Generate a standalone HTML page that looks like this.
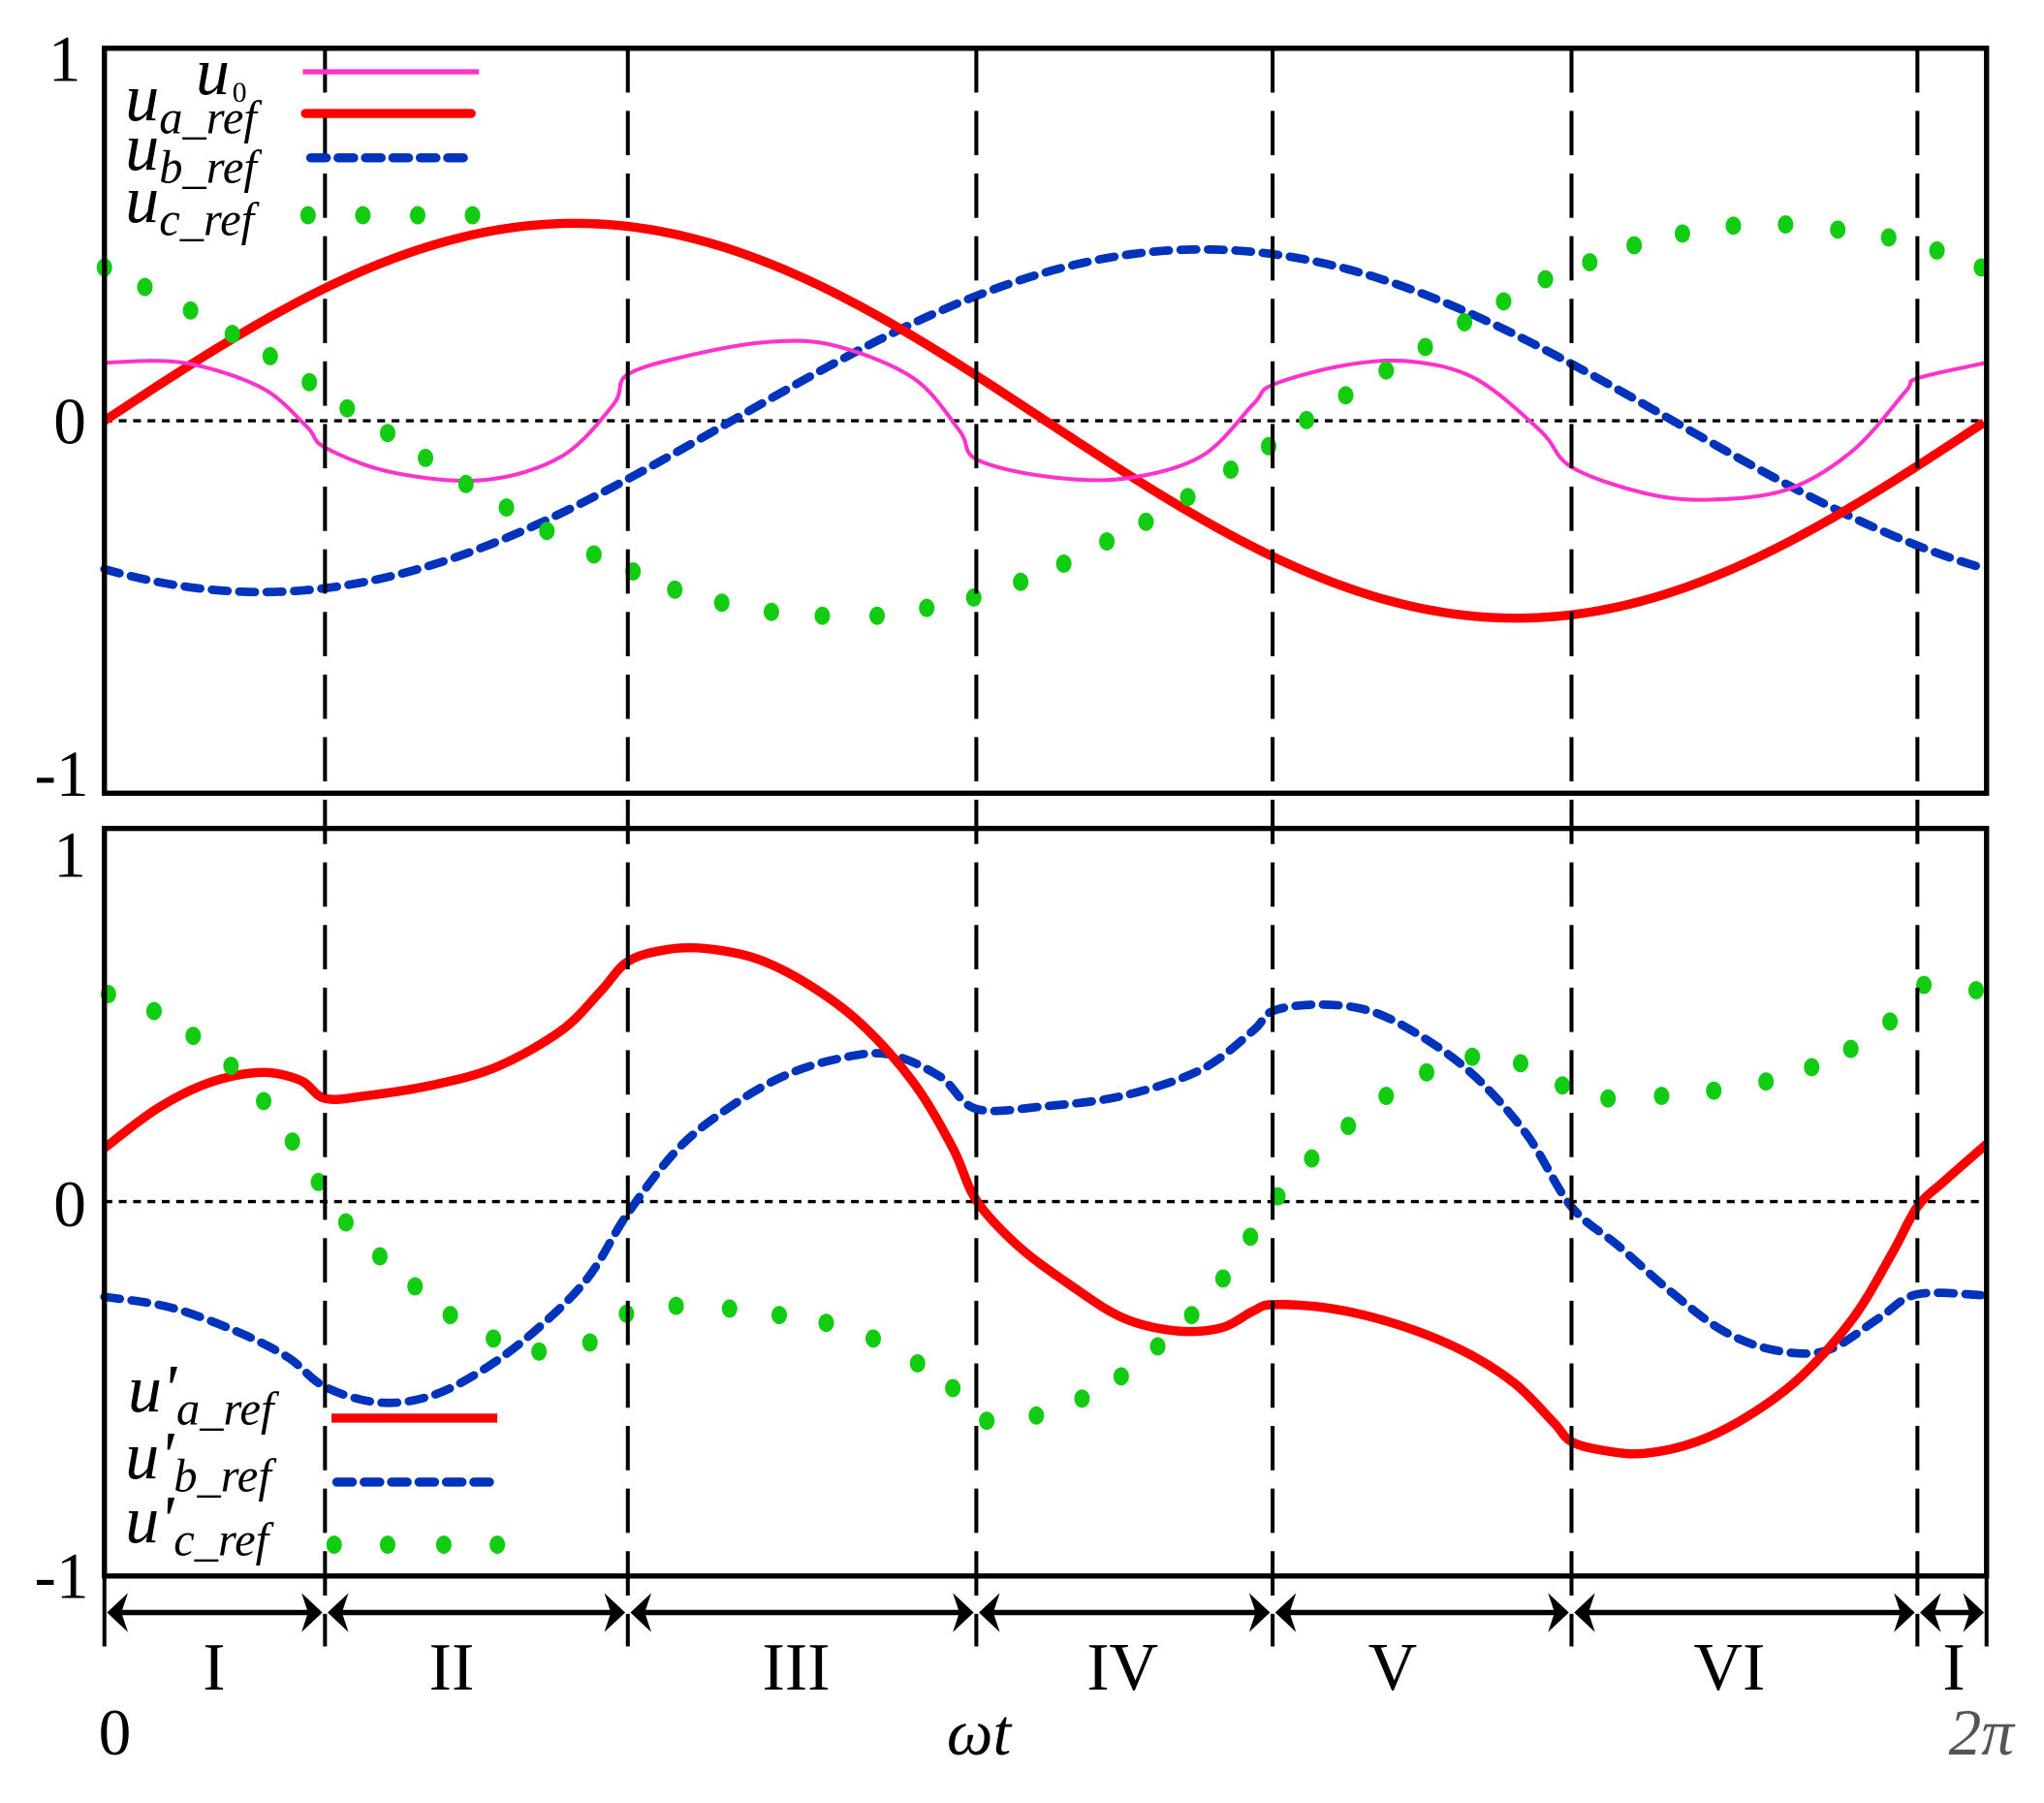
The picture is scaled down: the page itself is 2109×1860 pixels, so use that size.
<!DOCTYPE html>
<html><head><meta charset="utf-8"><style>
html,body{margin:0;padding:0;background:#fff;}
svg{display:block;}
text{font-family:"Liberation Serif",serif;fill:#000;}
</style></head><body>
<svg width="2109" height="1860" viewBox="0 0 1566 1382" preserveAspectRatio="none" xmlns="http://www.w3.org/2000/svg">
<g id="g"></g>
</svg>
<script>
const NS="http://www.w3.org/2000/svg";const G=document.getElementById('g');
function el(t,a,txt){const e=document.createElementNS(NS,t);for(const k in a)e.setAttribute(k,a[k]);if(txt!==undefined)e.textContent=txt;G.appendChild(e);return e;}
function pl(pts,a){const d=pts.map((p,i)=>(i?'L':'M')+p[0]+' '+p[1]).join(' ');const o=Object.assign({d:d,fill:'none'},a);return el('path',o);}
function smooth(pts,a){let d='M'+pts[0][0]+' '+pts[0][1];for(let i=0;i<pts.length-1;i++){const p0=pts[Math.max(0,i-1)],p1=pts[i],p2=pts[i+1],p3=pts[Math.min(pts.length-1,i+2)];const c1=[p1[0]+(p2[0]-p0[0])/6,p1[1]+(p2[1]-p0[1])/6],c2=[p2[0]-(p3[0]-p1[0])/6,p2[1]-(p3[1]-p1[1])/6];d+=` C${c1[0]} ${c1[1]} ${c2[0]} ${c2[1]} ${p2[0]} ${p2[1]}`;}return el('path',Object.assign({d:d,fill:'none'},a));}
function dots(pts,r){pts.forEach(p=>el('ellipse',{cx:p[0],cy:p[1],rx:r*0.85,ry:r,fill:'#11cc11'}));}
const X0=80,X1=1522,W=X1-X0;
function fx(x,amp,ph,z,s){const th=(x-X0)/W*2*Math.PI;return z-amp*s*Math.sin(th+ph);}
el('line',{x1:80,y1:322.5,x2:1522,y2:322.5,stroke:'#000','stroke-width':2.5,'stroke-dasharray':'6 5'});
el('line',{x1:80,y1:921,x2:1522,y2:921,stroke:'#000','stroke-width':2.5,'stroke-dasharray':'6 5'});
let ua=[],ub=[];for(let x=80;x<=1522;x+=6){ua.push([x,fx(x,0.53,0,322.5,285.5)]);ub.push([x,fx(x,0.46,-2*Math.PI/3,322.5,285.5)]);}
pl(ub,{stroke:'#0033bb','stroke-width':6.5,'stroke-dasharray':'12 9','stroke-linecap':'round'});
pl(ua,{stroke:'#ff0000','stroke-width':7});
smooth([[80,278],[140,278],[200,297],[235,327],[249,343],[300,362],[370,368],[430,350],[470,310],[481,287],[530,272],[590,262],[640,265],[700,290],[735,330],[748,352],[800,365],[860,367],[920,350],[960,310],[975,295],[1030,280],[1080,277],[1130,290],[1180,330],[1204,358],[1260,378],[1310,383],[1370,375],[1420,345],[1460,300],[1469,290],[1522,278]],{stroke:'#ff33cc','stroke-width':3});
dots([[80,205],[111,220],[146,238],[178,256],[207,273],[237,293],[266,313],[297,332],[326,351],[357,371],[388,389],[419,407],[455,425],[485,438],[517,452],[553,462],[591,469],[630,472],[672,472],[710,466],[746,458],[782,446],[815,432],[848,415],[878,400],[910,381],[943,360],[972,342],[1001,322],[1031,303],[1062,284],[1092,266],[1122,247],[1152,231],[1184,214],[1218,201],[1252,188],[1289,179],[1328,173],[1368,172],[1408,176],[1447,182],[1484,192],[1518,205]],7);
smooth([[80,994],[130,1002],[180,1020],[220,1040],[249,1063],[290,1075],[330,1070],[370,1050],[410,1020],[450,980],[481,930],[520,880],[560,848],[600,825],[640,812],[680,808],[720,825],[748,850],[800,848],[860,840],[920,820],[960,790],[975,775],[1010,770],[1050,775],[1090,795],[1130,825],[1170,870],[1204,925],[1240,955],[1280,990],[1320,1020],[1360,1035],[1400,1035],[1440,1010],[1469,992],[1522,993]],{stroke:'#0033bb','stroke-width':6.5,'stroke-dasharray':'12 9','stroke-linecap':'round'});
smooth([[80,880],[120,850],[160,830],[200,822],[230,828],[249,842],[280,840],[330,832],[380,818],[430,790],[460,760],[481,737],[510,728],[540,727],[580,735],[620,755],[660,785],[700,830],[730,880],[748,920],[780,955],[820,985],[860,1010],[900,1020],[935,1018],[960,1005],[975,1000],[1020,1003],[1070,1015],[1120,1035],[1160,1060],[1190,1090],[1204,1105],[1230,1112],[1260,1114],[1300,1105],[1340,1085],[1380,1055],[1420,1010],[1450,960],[1469,925],[1490,905],[1522,877]],{stroke:'#ff0000','stroke-width':7});
dots([[83,762],[118,775],[148,794],[177,817],[202,844],[224,875],[244,906],[265,937],[291,963],[318,986],[345,1008],[378,1026],[413,1036],[452,1029],[480,1007],[518,1001],[559,1003],[597,1008],[633,1014],[669,1026],[703,1045],[730,1064],[756,1089],[794,1085],[829,1072],[859,1055],[887,1032],[913,1008],[937,980],[958,948],[979,917],[1005,888],[1033,863],[1062,840],[1093,822],[1128,810],[1165,815],[1197,832],[1232,842],[1273,840],[1313,836],[1353,829],[1388,818],[1418,804],[1448,783],[1474,755],[1514,759]],7);
[249,481,748,975,1204,1469].forEach(x=>el('line',{x1:x,y1:37,x2:x,y2:1262,stroke:'#000','stroke-width':3,'stroke-dasharray':'34 14'}));
el('rect',{x:80,y:37,width:1442,height:571,fill:'none',stroke:'#000','stroke-width':4});
el('rect',{x:80,y:635,width:1442,height:573,fill:'none',stroke:'#000','stroke-width':4});
[80,1522].forEach(x=>el('line',{x1:x,y1:1208,x2:x,y2:1262,stroke:'#000','stroke-width':3}));
const B=[80,249,481,748,975,1204,1469,1522];
for(let i=0;i<B.length-1;i++){const a=B[i]+2,b=B[i+1]-2;el('line',{x1:a+10,y1:1236,x2:b-10,y2:1236,stroke:'#000','stroke-width':4});
el('polygon',{points:`${a},1236 ${a+16},1221 ${a+11},1236 ${a+16},1251`,fill:'#000'});
el('polygon',{points:`${b},1236 ${b-16},1221 ${b-11},1236 ${b-16},1251`,fill:'#000'});}
el('text',{x:62,y:62,'font-size':50,'text-anchor':'end'},'1');
el('text',{x:66,y:340,'font-size':50,'text-anchor':'end'},'0');
el('text',{x:68,y:610,'font-size':50,'text-anchor':'end'},'-1');
el('text',{x:66,y:672,'font-size':50,'text-anchor':'end'},'1');
el('text',{x:66,y:940,'font-size':50,'text-anchor':'end'},'0');
el('text',{x:68,y:1225,'font-size':50,'text-anchor':'end'},'-1');
[['I',164],['II',346],['III',610],['IV',860],['V',1067],['VI',1325],['I',1497]].forEach(r=>el('text',{x:r[1],y:1295,'font-size':52,'text-anchor':'middle'},r[0]));
el('text',{x:88,y:1345,'font-size':50,'text-anchor':'middle'},'0');
el('text',{x:750,y:1345,'font-size':50,'text-anchor':'middle','font-style':'italic'},'ωt');
el('text',{x:1518,y:1345,'font-size':50,'text-anchor':'middle','font-style':'italic',style:'fill:#555'},'2π');
function lab(x,y,main,sub,fs){const t=el('text',{x:x,y:y,'font-size':fs||52,'font-style':'italic'});const a=document.createElementNS(NS,'tspan');a.textContent=main;t.appendChild(a);const b=document.createElementNS(NS,'tspan');b.setAttribute('font-size',36);b.setAttribute('dy',10);b.textContent=sub;t.appendChild(b);}
el('text',{x:150,y:72,'font-size':52,'font-style':'italic'},'u');
el('text',{x:178,y:78,'font-size':22},'0');
el('line',{x1:232,y1:55,x2:367,y2:55,stroke:'#ff33cc','stroke-width':4});
lab(96,92,'u','a_ref');el('line',{x1:234,y1:87,x2:361,y2:87,stroke:'#ff0000','stroke-width':7,'stroke-linecap':'round'});
lab(96,130,'u','b_ref');el('line',{x1:238,y1:121,x2:358,y2:121,stroke:'#0033bb','stroke-width':7,'stroke-dasharray':'12 9','stroke-linecap':'round'});
lab(96,170,'u','c_ref');dots([[236,165],[278,165],[320,165],[362,165]],7);
lab(98,1082,"u'",'a_ref');el('line',{x1:254,y1:1087,x2:381,y2:1087,stroke:'#ff0000','stroke-width':7});
lab(96,1133,"u'",'b_ref');el('line',{x1:258,y1:1136,x2:378,y2:1136,stroke:'#0033bb','stroke-width':7,'stroke-dasharray':'12 9','stroke-linecap':'round'});
lab(96,1182,"u'",'c_ref');dots([[256,1184],[297,1184],[340,1184],[381,1184]],7);
</script>
</body></html>
